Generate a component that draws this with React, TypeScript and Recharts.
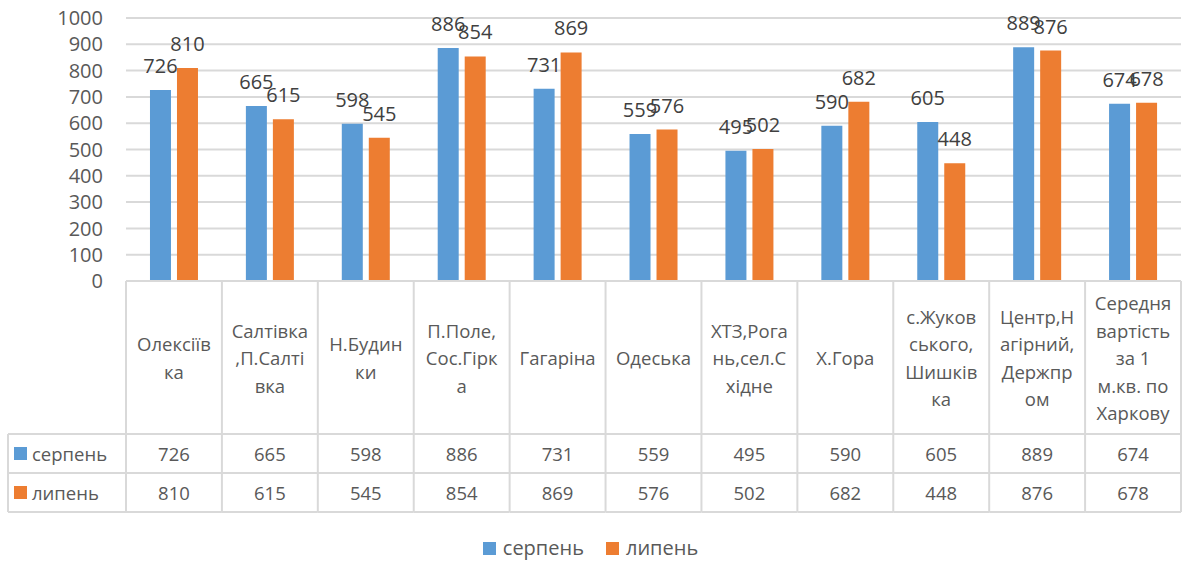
import React from 'react';
import { BarChart, Bar, XAxis, YAxis, CartesianGrid, Legend, LabelList } from 'recharts';

const categoryLines: string[][] = [
  ['Олексіїв', 'ка'],
  ['Салтівка', ',П.Салті', 'вка'],
  ['Н.Будин', 'ки'],
  ['П.Поле,', 'Сос.Гірк', 'а'],
  ['Гагаріна'],
  ['Одеська'],
  ['ХТЗ,Рога', 'нь,сел.С', 'хідне'],
  ['Х.Гора'],
  ['с.Жуков', 'ського,', 'Шишків', 'ка'],
  ['Центр,Н', 'агірний,', 'Держпр', 'ом'],
  ['Середня', 'вартість', 'за 1', 'м.кв. по', 'Харкову'],
];
const serpen = [726, 665, 598, 886, 731, 559, 495, 590, 605, 889, 674];
const lypen = [810, 615, 545, 854, 869, 576, 502, 682, 448, 876, 678];
const seriesNames = ['серпень', 'липень'];
const seriesColors = ['#5B9BD5', '#ED7D31'];
const yTicks = [0, 100, 200, 300, 400, 500, 600, 700, 800, 900, 1000];

const data = categoryLines.map((lines, i) => ({
  name: lines.join(''),
  serpen: serpen[i],
  lypen: lypen[i],
}));

const CHART_W = 1186;
const CHART_H = 561;
const MARGIN = { top: 18, right: 5, left: 0, bottom: 0 };
const Y_W = 126;
const X_H = 232;
const LEGEND_H = 48;
const HEADER_H = 153;
const ROW_H = 39;
const GRID = '#d9d9d9';
const TEXT = '#595959';
const TABLE_FONT = 18.5;
const LINE_H = 27.5;
const TABLE_LEFT = 8;

const plotW = CHART_W - MARGIN.left - MARGIN.right - Y_W;
const cellW = plotW / categoryLines.length;

const TableTick = (props: any) => {
  const { x, y, payload } = props;
  const idx = data.findIndex((d) => d.name === payload.value);
  if (idx < 0) return null;
  const lines = categoryLines[idx];
  const left = x - cellW / 2;
  const right = x + cellW / 2;
  const y0 = y;
  const yRow1 = y0 + HEADER_H;
  const yRow2 = yRow1 + ROW_H;
  const yEnd = yRow2 + ROW_H;
  const headerMid = y0 + HEADER_H / 2;
  const values = [serpen[idx], lypen[idx]];
  return (
    <g>
      <line x1={left} y1={y0} x2={left} y2={yEnd} stroke={GRID} strokeWidth={2} />
      {idx === categoryLines.length - 1 && (
        <line x1={right} y1={y0} x2={right} y2={yEnd} stroke={GRID} strokeWidth={2} />
      )}
      <line x1={left} y1={yRow1} x2={right} y2={yRow1} stroke={GRID} strokeWidth={2} />
      <line x1={left} y1={yRow2} x2={right} y2={yRow2} stroke={GRID} strokeWidth={2} />
      <line x1={left} y1={yEnd} x2={right} y2={yEnd} stroke={GRID} strokeWidth={2} />
      {lines.map((ln, li) => (
        <text
          key={li}
          x={x}
          y={headerMid + (li - (lines.length - 1) / 2) * LINE_H}
          textAnchor="middle"
          dominantBaseline="central"
          fontSize={TABLE_FONT}
          fill={TEXT}
        >
          {ln}
        </text>
      ))}
      {values.map((v, vi) => (
        <text
          key={'v' + vi}
          x={x}
          y={yRow1 + ROW_H * vi + ROW_H / 2}
          textAnchor="middle"
          dominantBaseline="central"
          fontSize={TABLE_FONT}
          fill={TEXT}
        >
          {v}
        </text>
      ))}
      {idx === 0 && (
        <g>
          <line x1={TABLE_LEFT} y1={yRow1} x2={TABLE_LEFT} y2={yEnd} stroke={GRID} strokeWidth={2} />
          <line x1={TABLE_LEFT} y1={yRow1} x2={left} y2={yRow1} stroke={GRID} strokeWidth={2} />
          <line x1={TABLE_LEFT} y1={yRow2} x2={left} y2={yRow2} stroke={GRID} strokeWidth={2} />
          <line x1={TABLE_LEFT} y1={yEnd} x2={left} y2={yEnd} stroke={GRID} strokeWidth={2} />
          {seriesNames.map((n, si) => {
            const cy = yRow1 + ROW_H * si + ROW_H / 2;
            return (
              <g key={n}>
                <rect x={14} y={cy - 6.5} width={13} height={13} fill={seriesColors[si]} />
                <text x={32} y={cy} dominantBaseline="central" fontSize={TABLE_FONT} fill={TEXT}>
                  {n}
                </text>
              </g>
            );
          })}
        </g>
      )}
    </g>
  );
};

const LegendContent = () => {
  return (
    <div
      style={{
        height: LEGEND_H,
        display: 'flex',
        justifyContent: 'center',
        alignItems: 'flex-start',
        paddingTop: 22,
        boxSizing: 'border-box',
        fontFamily: "'Open Sans', sans-serif",
        fontSize: 20,
        color: TEXT,
      }}
    >
      {seriesNames.map((n, i) => (
        <div key={n} style={{ display: 'flex', alignItems: 'center', marginRight: i < seriesNames.length - 1 ? 22 : 0 }}>
          <span style={{ display: 'inline-block', width: 13, height: 13, background: seriesColors[i], marginRight: 7 }} />
          <span style={{ lineHeight: '26px' }}>{n}</span>
        </div>
      ))}
    </div>
  );
};

export default function App() {
  return (
    <div style={{ position: 'absolute', left: 0, top: 0, width: CHART_W, height: CHART_H, background: '#fff', fontFamily: "'Open Sans', sans-serif" }}>
      <BarChart
        width={CHART_W}
        height={CHART_H}
        data={data}
        margin={MARGIN}
        barCategoryGap="25%"
        barGap={6}
      >
        <CartesianGrid vertical={false} stroke={GRID} strokeWidth={2} />
        <XAxis
          dataKey="name"
          height={X_H}
          interval={0}
          tickLine={false}
          tickSize={0}
          tickMargin={0}
          axisLine={{ stroke: GRID, strokeWidth: 2 }}
          tick={<TableTick />}
        />
        <YAxis
          width={Y_W}
          domain={[0, 1000]}
          ticks={yTicks}
          interval={0}
          axisLine={false}
          tickLine={false}
          tickSize={0}
          tickMargin={23}
          tick={{ fontSize: 20, fill: TEXT }}
        />
        <Legend verticalAlign="bottom" align="center" height={LEGEND_H} content={<LegendContent />} />
        <Bar dataKey="serpen" name={seriesNames[0]} fill={seriesColors[0]} isAnimationActive={false}>
          <LabelList dataKey="serpen" position="top" offset={17} fill="#404040" fontSize={20} />
        </Bar>
        <Bar dataKey="lypen" name={seriesNames[1]} fill={seriesColors[1]} isAnimationActive={false}>
          <LabelList dataKey="lypen" position="top" offset={17} fill="#404040" fontSize={20} />
        </Bar>
      </BarChart>
    </div>
  );
}
